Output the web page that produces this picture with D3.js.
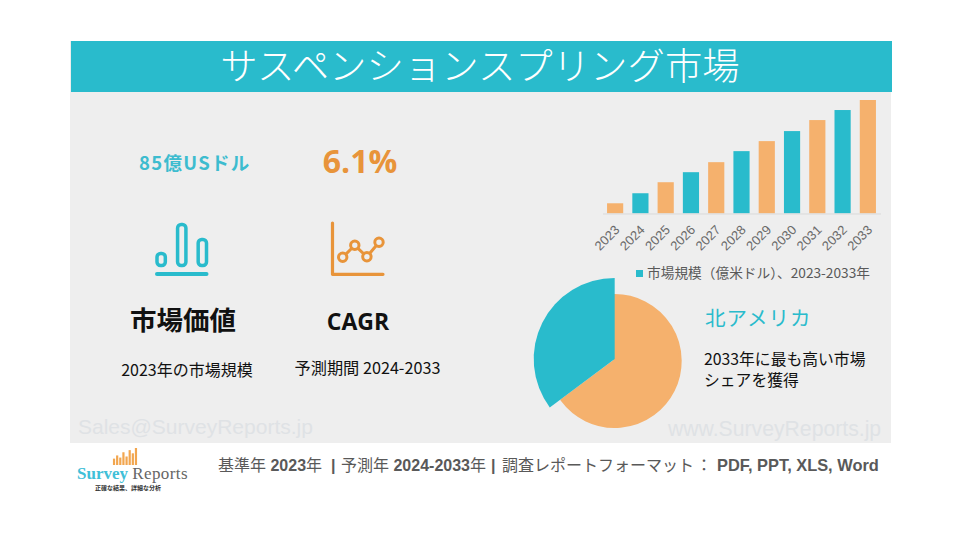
<!DOCTYPE html>
<html>
<head>
<meta charset="utf-8">
<script src="https://cdn.jsdelivr.net/npm/d3@7"></script>
<style>
  html, body { margin: 0; padding: 0; background: #fff; }
  svg { display: block; }
  text { font-family: "Noto Sans CJK JP", sans-serif; }
  .latin { font-family: "Open Sans", sans-serif; }
  .arial { font-family: "Liberation Sans", "Noto Sans CJK JP", sans-serif; }
</style>
</head>
<body>
<svg id="chart" width="960" height="540"></svg>
<script>
var years = ["2023","2024","2025","2026","2027","2028","2029","2030","2031","2032","2033"];
// no axis in the picture, so these are read as relative bar heights
var marketSize = [10, 20, 31, 41, 51, 62, 72, 82, 93, 103, 113];
var shareLabels = ["その他", "北アメリカ"];
var shareValues = [64.8, 35.2];
var iconBars = [15, 44, 29];
var iconLine = [17, 29, 17.5, 32];
var logoBars = [6, 9, 7, 12, 8, 14, 11, 16];

var teal = "#29bbcc", orange = "#f5b16d", darkOrange = "#e8943a";

var svg = d3.select("#chart");

// panel and header
svg.append("rect").attr("x", 70).attr("y", 41).attr("width", 821).attr("height", 402).attr("fill", "#eeeeee");
svg.append("rect").attr("x", 71).attr("y", 41).attr("width", 821).attr("height", 51).attr("fill", teal);
svg.append("text").attr("x", 480).attr("y", 80).attr("text-anchor", "middle")
    .attr("font-size", 37.4).attr("fill", "#fff").attr("font-weight", 300)
    .text("サスペンションスプリング市場");

// watermarks
svg.append("text").attr("class", "arial").attr("x", 78).attr("y", 434)
    .attr("font-size", 21).attr("fill", "#dfe2e5").text("Sales@SurveyReports.jp");
svg.append("text").attr("class", "arial").attr("x", 668).attr("y", 436)
    .attr("font-size", 21.2).attr("fill", "#dfe2e5").text("www.SurveyReports.jp");

// bar chart
var x = d3.scaleBand().domain(years).range([602.5, 880.5]).paddingInner(0.36).paddingOuter(0.18);
var y = d3.scaleLinear().domain([0, 113]).range([213.3, 100]);

svg.append("g").selectAll("rect")
    .data(years)
    .enter().append("rect")
    .attr("x", function(d) { return x(d); })
    .attr("y", function(d, i) { return y(marketSize[i]); })
    .attr("width", x.bandwidth())
    .attr("height", function(d, i) { return y(0) - y(marketSize[i]); })
    .attr("fill", function(d, i) { return i % 2 ? teal : orange; });

var xAxis = svg.append("g")
    .attr("transform", "translate(0,213.5)")
    .call(d3.axisBottom(x).tickSize(0));
xAxis.select(".domain").attr("stroke", "#d9d9d9");
xAxis.selectAll("text")
    .attr("class", "arial")
    .attr("font-size", 13)
    .attr("fill", "#6a6a6a")
    .attr("text-anchor", "end")
    .attr("x", 0).attr("y", 0)
    .attr("dy", "0.35em")
    .attr("transform", "translate(2,14) rotate(-45)");

// legend
svg.append("rect").attr("x", 636).attr("y", 270).attr("width", 7).attr("height", 7).attr("fill", teal);
svg.append("text").attr("x", 647).attr("y", 278).attr("font-size", 13.7).attr("fill", "#595959")
    .text("市場規模（億米ドル）、2023-2033年");

// pie, the share slice is larger and pulled out
var pie = d3.pie().sort(null)(shareValues);
var centers = [[614.7, 361], [614.7, 359]];
var radii = [65.5, 81];
svg.append("g").selectAll("path")
    .data(pie)
    .enter().append("path")
    .attr("transform", function(d, i) { return "translate(" + centers[i] + ")"; })
    .attr("d", function(d, i) {
        return d3.arc().innerRadius(0).outerRadius(radii[i])(d);
    })
    .attr("fill", function(d, i) { return i ? teal : orange; })
    // orange stroke runs under the teal so no gap shows at the seam
    .attr("stroke", function(d, i) { return i ? "none" : orange; })
    .attr("stroke-width", 3);

svg.append("text").attr("x", 705).attr("y", 326).attr("font-size", 20.5).attr("fill", teal)
    .attr("letter-spacing", 1).text("北アメリカ");
svg.append("text").attr("x", 704).attr("y", 365).attr("font-size", 15.8).attr("fill", "#111").text("2033年に最も高い市場");
svg.append("text").attr("x", 704).attr("y", 386).attr("font-size", 15.8).attr("fill", "#111").text("シェアを獲得");

// left KPI columns
svg.append("text").attr("x", 139).attr("y", 170).attr("font-size", 18.5).attr("font-weight", 700).attr("fill", "#3dbccf")
    .attr("letter-spacing", 1.3).text("85億USドル");
svg.append("text").attr("class", "latin").attr("x", 360).attr("y", 173).attr("text-anchor", "middle")
    .attr("font-size", 32).attr("font-weight", 700).attr("fill", darkOrange).text("6.1%");
svg.append("text").attr("x", 183).attr("y", 330).attr("text-anchor", "middle").attr("font-size", 26.5)
    .attr("font-weight", 700).attr("fill", "#111").text("市場価値");
svg.append("text").attr("class", "latin").attr("x", 358).attr("y", 330).attr("text-anchor", "middle").attr("font-size", 23)
    .attr("font-weight", 700).attr("fill", "#111").text("CAGR");
svg.append("text").attr("x", 187).attr("y", 376).attr("text-anchor", "middle").attr("font-size", 16).attr("fill", "#111")
    .text("2023年の市場規模");
svg.append("text").attr("x", 367.5).attr("y", 374).attr("text-anchor", "middle").attr("font-size", 16.2).attr("fill", "#111")
    .text("予測期間 2024-2033");

// bar icon
var iconX = d3.scaleBand().domain(d3.range(iconBars.length)).range([155.5, 208]).paddingInner(0.45);
var iconY = d3.scaleLinear().domain([0, 44]).range([267, 223]);
svg.append("g").selectAll("rect")
    .data(iconBars)
    .enter().append("rect")
    .attr("x", function(d, i) { return iconX(i) + 1.5; })
    .attr("y", function(d) { return iconY(d) + 1.5; })
    .attr("width", iconX.bandwidth() - 3)
    .attr("height", function(d) { return iconY(0) - iconY(d) - 3; })
    .attr("rx", 3.5)
    .attr("fill", "none").attr("stroke", teal).attr("stroke-width", 3.5);
svg.append("line").attr("x1", 157).attr("x2", 206.5).attr("y1", 274).attr("y2", 274)
    .attr("stroke", teal).attr("stroke-width", 4).attr("stroke-linecap", "round");

// line icon
var lineX = d3.scaleLinear().domain([0, 3]).range([342.7, 379]);
var lineY = d3.scaleLinear().domain([0, 32]).range([274.3, 242.3]);
var iconPath = d3.line().x(function(d, i) { return lineX(i); }).y(function(d) { return lineY(d); });
svg.append("path").attr("d", "M332.5,223V274.3H383").attr("fill", "none").attr("stroke", darkOrange)
    .attr("stroke-width", 3.2).attr("stroke-linecap", "round").attr("stroke-linejoin", "round");
svg.append("path").attr("d", iconPath(iconLine)).attr("fill", "none").attr("stroke", darkOrange).attr("stroke-width", 3);
svg.append("g").selectAll("circle")
    .data(iconLine)
    .enter().append("circle")
    .attr("cx", function(d, i) { return lineX(i); })
    .attr("cy", function(d) { return lineY(d); })
    .attr("r", 4.2)
    .attr("fill", "#eeeeee").attr("stroke", darkOrange).attr("stroke-width", 3);

// footer, segments placed one by one because the spacing is uneven
var footer = svg.append("text").attr("class", "arial").attr("y", 471)
    .attr("font-size", 16).attr("font-weight", 700).attr("fill", "#595959");
footer.append("tspan").attr("x", 218).attr("font-weight", 400).text("基準年 ");
footer.append("tspan").text("2023");
footer.append("tspan").attr("font-weight", 400).text("年");
footer.append("tspan").attr("x", 331).text("|");
footer.append("tspan").attr("x", 341).attr("font-weight", 400).text("予測年 ");
footer.append("tspan").text("2024-2033");
footer.append("tspan").attr("font-weight", 400).text("年");
footer.append("tspan").attr("x", 491).text("|");
footer.append("tspan").attr("x", 502).attr("font-weight", 400).text("調査レポートフォーマット");
footer.append("tspan").attr("x", 696).attr("font-weight", 400).text("：");
footer.append("tspan").attr("x", 717).attr("font-size", 16.4).text("PDF, PPT, XLS, Word");

// logo
var logoX = d3.scaleBand().domain(d3.range(logoBars.length)).range([112, 138]).padding(0.3);
var logoY = d3.scaleLinear().domain([0, 16]).range([465, 448]);
svg.append("g").selectAll("rect")
    .data(logoBars)
    .enter().append("rect")
    .attr("x", function(d, i) { return logoX(i); })
    .attr("y", function(d) { return logoY(d); })
    .attr("width", logoX.bandwidth())
    .attr("height", function(d) { return logoY(0) - logoY(d); })
    .attr("fill", "#f2a64f");
var logoText = svg.append("text").attr("x", 77).attr("y", 479)
    .attr("font-size", 17).style("font-family", "'Liberation Serif', serif");
logoText.append("tspan").attr("fill", "#3fc0d8").attr("font-weight", 700).text("Survey ");
logoText.append("tspan").attr("fill", "#666").attr("letter-spacing", 0.4).text("Reports");
svg.append("text").attr("x", 128).attr("y", 489.5).attr("text-anchor", "middle").attr("font-size", 6)
    .attr("font-weight", 700).attr("fill", "#333")
    .text("正確な結果、詳細な分析");
</script>
</body>
</html>
